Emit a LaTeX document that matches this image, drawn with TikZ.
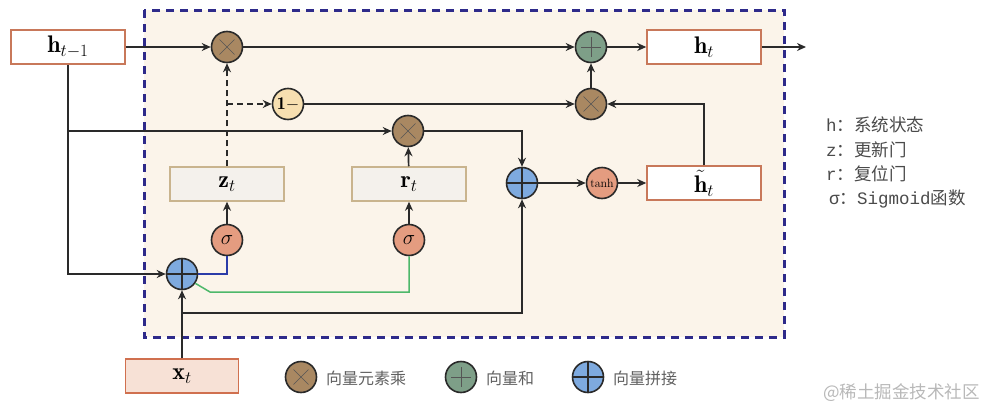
\documentclass[tikz,border=0pt]{standalone}
\usepackage{fontspec}
\usetikzlibrary{arrows.meta}
\newfontfamily\cjk{Noto Sans CJK SC}
\newfontfamily\monof{Liberation Mono}
\definecolor{bgc}{HTML}{FBF4EA}
\definecolor{framec}{HTML}{2E2A8A}
\definecolor{hborder}{HTML}{C8785A}
\definecolor{gborder}{HTML}{C9B48E}
\definecolor{gfill}{HTML}{F4F1EC}
\definecolor{xfill}{HTML}{F7E1D6}
\definecolor{xborder}{HTML}{D0704F}
\definecolor{mulc}{HTML}{A98862}
\definecolor{addc}{HTML}{7E9F88}
\definecolor{catc}{HTML}{7EAADF}
\definecolor{sigc}{HTML}{E49C80}
\definecolor{onec}{HTML}{F7DFB0}
\definecolor{linec}{HTML}{2A2A2A}
\definecolor{bluel}{HTML}{2B3BA8}
\definecolor{greenl}{HTML}{4DB86A}
\definecolor{legc}{HTML}{606060}
\definecolor{wmc}{HTML}{B8B8B8}
\begin{document}
\begin{tikzpicture}[x=1pt,y=-1pt,
  font=\fontsize{24}{28}\selectfont,
  circ/.style={circle, draw=linec, line width=1.6pt, minimum size=31pt, inner sep=0pt},
  mul/.style={circ, fill=mulc, path picture={\draw[linec!80, line width=0.6pt]
     ([shift={(-7.5pt,-7.5pt)}]path picture bounding box.center) -- ([shift={(7.5pt,7.5pt)}]path picture bounding box.center)
     ([shift={(-7.5pt,7.5pt)}]path picture bounding box.center) -- ([shift={(7.5pt,-7.5pt)}]path picture bounding box.center);}},
  add/.style={circ, fill=addc, path picture={\draw[linec!80, line width=0.6pt]
     ([shift={(-10pt,0pt)}]path picture bounding box.center) -- ([shift={(10pt,0pt)}]path picture bounding box.center)
     ([shift={(0pt,10pt)}]path picture bounding box.center) -- ([shift={(0pt,-10pt)}]path picture bounding box.center);}},
  cat/.style={circ, fill=catc, path picture={\draw[linec, line width=1.6pt]
     ([shift={(-16pt,0pt)}]path picture bounding box.center) -- ([shift={(16pt,0pt)}]path picture bounding box.center)
     ([shift={(0pt,16pt)}]path picture bounding box.center) -- ([shift={(0pt,-16pt)}]path picture bounding box.center);}},
  sig/.style={circ, fill=sigc, font=\fontsize{22}{22}\selectfont},
  onem/.style={circ, fill=onec, font=\fontsize{18}{18}\selectfont},
  hbox/.style={rectangle, draw=hborder, fill=white, line width=1.5pt, minimum width=114pt, minimum height=34pt, inner sep=0pt},
  gbox/.style={rectangle, draw=gborder, fill=gfill, line width=1.5pt, minimum width=114pt, minimum height=34pt, inner sep=0pt},
  xbox/.style={rectangle, draw=xborder, fill=xfill, line width=1.5pt, minimum width=113pt, minimum height=34pt, inner sep=0pt},
  arr/.style={draw=linec, line width=1.7pt, -{Stealth[length=9pt,width=8pt]}},
  dsh/.style={dash pattern=on 6pt off 4pt},
  legt/.style={anchor=west, text=legc, font=\cjk\fontsize{16}{18}\selectfont, inner sep=0pt},
  rlegt/.style={anchor=west, text=linec!85, font=\cjk\fontsize{17.5}{20}\selectfont, inner sep=0pt}
]
\useasboundingbox (0,0) rectangle (986,410);
% frame
\draw[fill=bgc, draw=framec, line width=3pt, dash pattern=on 8pt off 6pt] (144,10) rectangle (784,337);

% nodes
\node[hbox] (hprev) at (68,47) {$\mathbf{h}_{t-1}$};
\node[mul] (m1) at (227,47) {};
\node[add] (a1) at (591,47) {};
\node[hbox] (ht) at (704,47) {$\mathbf{h}_t$};
\coordinate (out) at (806,47);
\node[onem] (om) at (288,104) {$\mathbf{1}{-}$};
\node[mul] (m2) at (591,104) {};
\node[mul] (m3) at (408,131) {};
\node[cat] (c2) at (522,183) {};
\node[circ, fill=sigc] (th) at (602,183) {\fontsize{12}{12}\selectfont tanh};
\node[hbox] (htil) at (704,183) {$\tilde{\mathbf{h}}_t$};
\node[gbox] (zt) at (227,184) {$\mathbf{z}_t$};
\node[gbox] (rt) at (409,184) {$\mathbf{r}_t$};
\node[sig] (s1) at (227,240) {$\sigma$};
\node[sig] (s2) at (409,240) {$\sigma$};
\node[cat] (c1) at (182,274) {};
\node[xbox] (xt) at (182,376) {$\mathbf{x}_t$};

% coordinates
\coordinate (zb) at (227,104);
\coordinate (hb) at (68,131);
\coordinate (xb) at (182,313);
\coordinate (g1) at (210,292);

% connectors
\draw[arr] (hprev) -- (m1);
\draw[arr] (m1) -- (a1);
\draw[arr] (a1) -- (ht);
\draw[arr] (ht) -- (out);
\draw[arr, dsh] (zt) -- (m1);
\draw[arr, dsh] (zb) -- (om);
\draw[arr] (om) -- (m2);
\draw[arr] (m2) -- (a1);
\draw[arr] (htil.north) |- (m2);
\draw[arr] (hprev.south) |- (c1);
\draw[arr] (hb) -- (m3);
\draw[arr] (m3) -| (c2);
\draw[arr] (c2) -- (th);
\draw[arr] (th) -- (htil);
\draw[arr] (s1) -- (zt);
\draw[arr] (s2) -- (rt);
\draw[arr] (rt) -- (m3);
\draw[draw=bluel, line width=1.5pt] (c1.east) -| (s1.south);
\draw[draw=greenl, line width=1.5pt] (c1.-35) -- (g1) -| (s2.south);
\draw[arr] (xt.north) -- (c1);
\draw[arr] (xb) -| (c2);

% bottom legend
\node[mul] (lm) at (301,377) {};
\node[legt] (lmt) at (326,378) {向量元素乘};
\node[add] (la) at (461,377) {};
\node[legt] (lat) at (486,378) {向量和};
\node[cat] (lc) at (588,377) {};
\node[legt] (lct) at (613,378) {向量拼接};

% right legend
\node[rlegt] (l1) at (826,125) {{\monof h}：系统状态};
\node[rlegt] (l2) at (826,150) {{\monof z}：更新门};
\node[rlegt] (l3) at (826,174) {{\monof r}：复位门};
\node[rlegt] (l4) at (829,199) {{\monof σ}：{\monof Sigmoid}函数};

% watermark
\node[anchor=east, text=wmc, font=\cjk\fontsize{17.5}{20}\selectfont, inner sep=0pt] (wm) at (980,393) {@稀土掘金技术社区};
\end{tikzpicture}
\end{document}
